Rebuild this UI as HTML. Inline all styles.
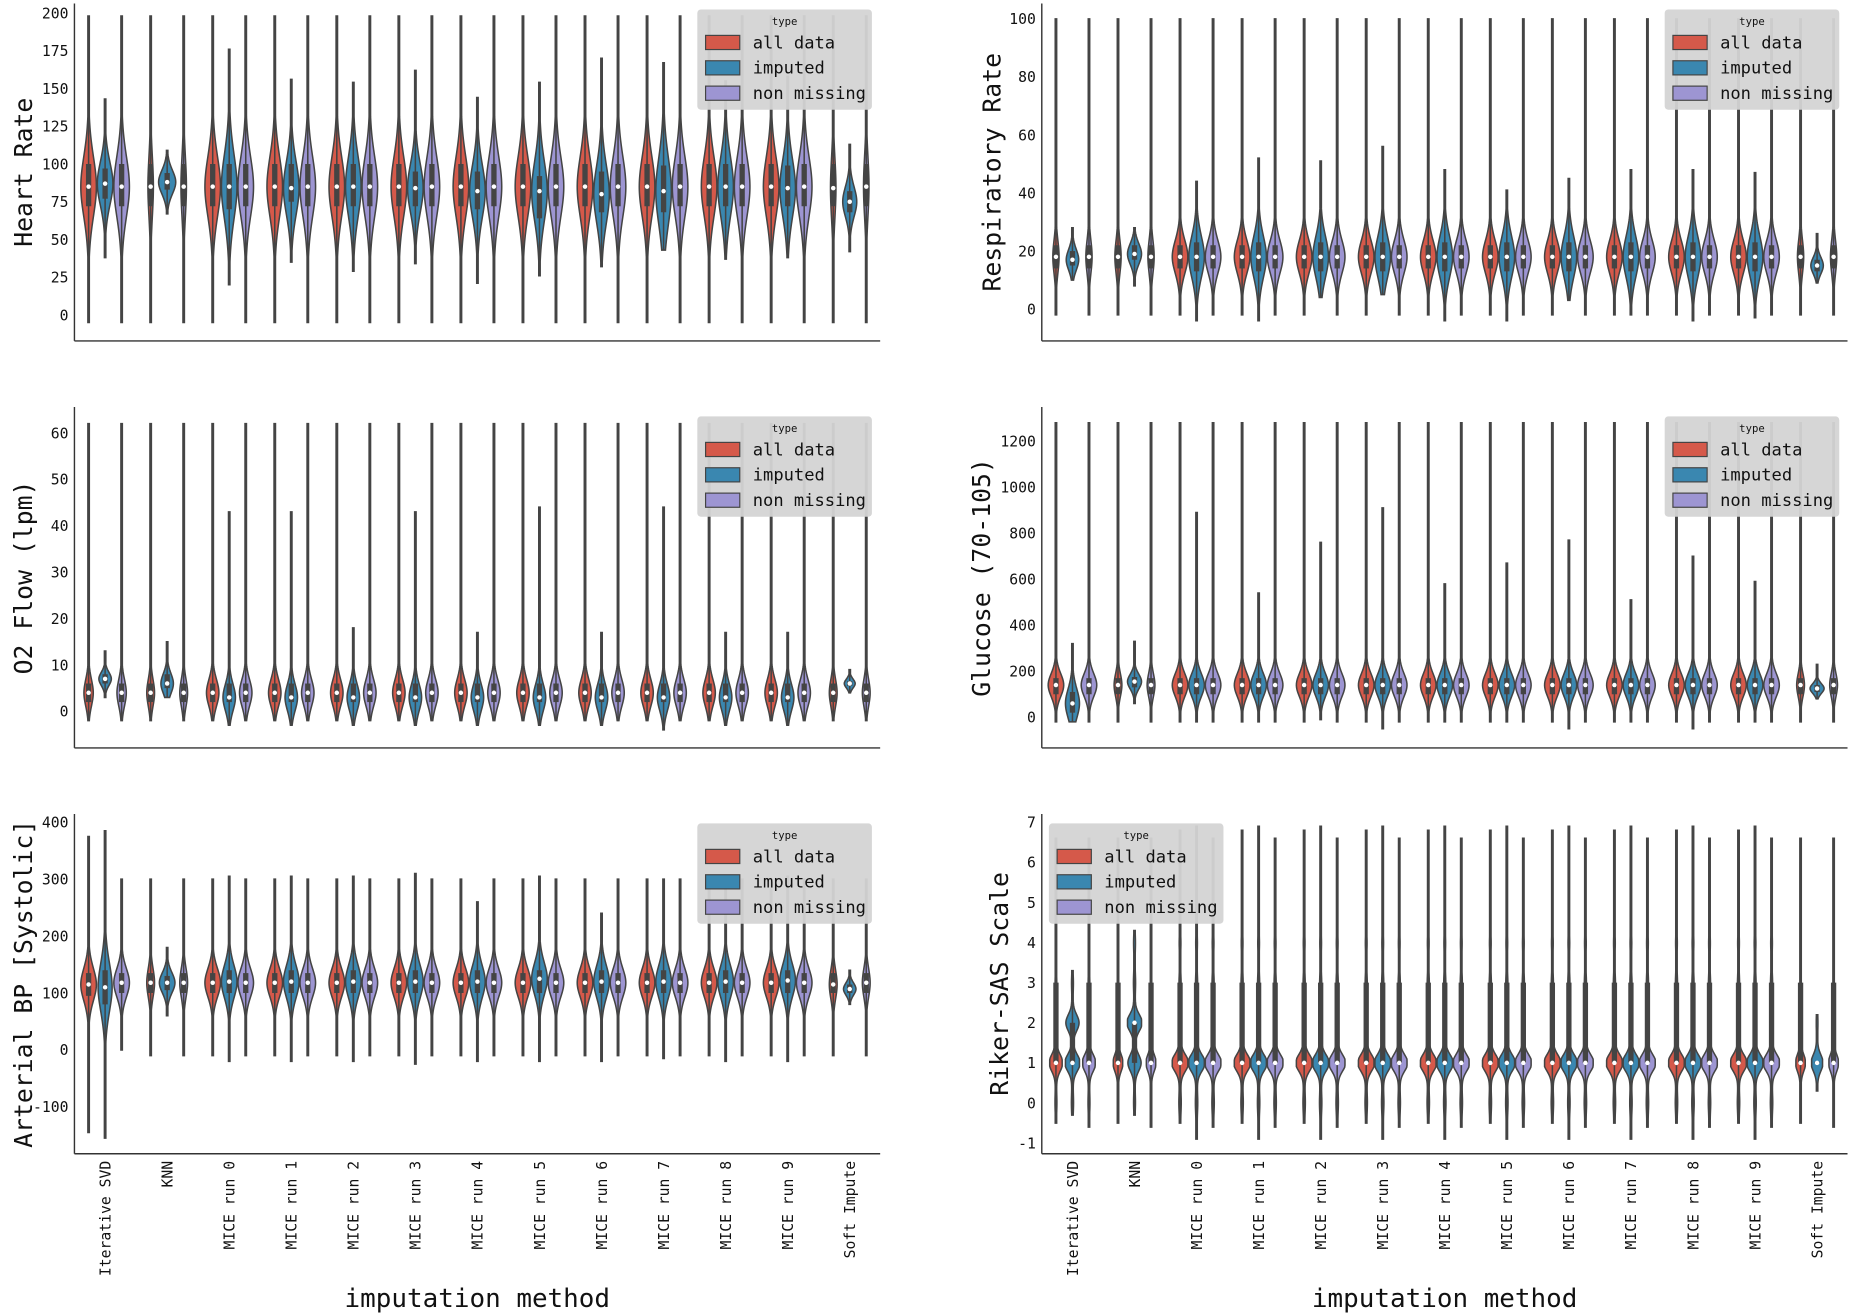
<!DOCTYPE html>
<html><head><meta charset="utf-8"><style>
html,body{margin:0;padding:0;background:#fff;}
svg{display:block;}
text{font-family:"DejaVu Sans Mono","Liberation Mono",monospace;fill:#111;}
</style></head>
<body>
<svg id="chart" width="1850" height="1313" viewBox="0 0 1568 1113" xmlns="http://www.w3.org/2000/svg"></svg>
<script>
const categories = ["Iterative SVD","KNN","MICE run 0","MICE run 1","MICE run 2","MICE run 3","MICE run 4","MICE run 5","MICE run 6","MICE run 7","MICE run 8","MICE run 9","Soft Impute"];
const typeNames = ["all data","imputed","non missing"];
// tuples: [min, q1, median, q3, max, relativeWidth]
const hrAll = [[-5,72,85,100,198,1],[-5,72,85,100,198,0.35],[-5,72,85,100,198,1],[-5,72,85,100,198,1],[-5,72,85,100,198,1],[-5,72,85,100,198,1],[-5,72,85,100,198,1],[-5,72,85,100,198,1],[-5,72,85,100,198,1],[-5,72,85,100,198,1],[-5,72,85,100,198,1],[-5,72,85,100,198,1],[-5,72,84,100,198,0.35]];
const hrImp = [[38,77,87,97,143,1],[67,83,88,94,109,1.1],[20,70,85,100,176,1],[35,75,84,100,156,1],[29,72,85,100,154,1],[34,72,84,95,162,1],[21,70,82,95,144,1],[26,64,82,92,154,1],[32,68,80,95,170,1],[43,68,82,99,167,1],[37,72,85,100,155,1],[38,72,84,99,158,1],[42,68,75,82,113,0.9]];
const hrNon = [[-5,72,85,100,198,1],[-5,72,85,100,198,0.35],[-5,72,85,100,198,1],[-5,72,85,100,198,1],[-5,72,85,100,198,1],[-5,72,85,100,198,1],[-5,72,85,100,198,1],[-5,72,85,100,198,1],[-5,72,85,100,198,1],[-5,72,85,100,198,1],[-5,72,85,100,198,1],[-5,72,85,100,198,1],[-5,72,85,100,198,0.35]];
const rrAll = [[-2,14,18,22,100,0.4],[-2,14,18,22,100,0.4],[-2,14,18,22,100,1],[-2,14,18,22,100,1],[-2,14,18,22,100,1],[-2,14,18,22,100,1],[-2,14,18,22,100,1],[-2,14,18,22,100,1],[-2,14,18,22,100,1],[-2,14,18,22,100,1],[-2,14,18,22,100,1],[-2,14,18,22,100,1],[-2,14,18,22,100,0.4]];
const rrImp = [[10,15,17,20,28,0.8],[8,17,19,22,28,0.9],[-4,13,18,23,44,1],[-4,13,18,23,52,1],[4,13,18,23,51,1],[5,13,18,23,56,1],[-4,13,18,23,48,1],[-4,13,18,23,41,1],[3,13,18,23,45,1],[-2,13,18,23,48,1],[-4,13,18,23,48,1],[-3,13,18,23,47,1],[9,13,15,17,26,0.8]];
const rrNon = [[-2,14,18,22,100,0.4],[-2,14,18,22,100,0.4],[-2,14,18,22,100,1],[-2,14,18,22,100,1],[-2,14,18,22,100,1],[-2,14,18,22,100,1],[-2,14,18,22,100,1],[-2,14,18,22,100,1],[-2,14,18,22,100,1],[-2,14,18,22,100,1],[-2,14,18,22,100,1],[-2,14,18,22,100,1],[-2,14,18,22,100,0.4]];
const o2All = [[-2,2,4,6,62,0.6],[-2,2,4,6,62,0.5],[-2,2,4,6,62,0.8],[-2,2,4,6,62,0.8],[-2,2,4,6,62,0.8],[-2,2,4,6,62,0.8],[-2,2,4,6,62,0.8],[-2,2,4,6,62,0.8],[-2,2,4,6,62,0.8],[-2,2,4,6,62,0.8],[-2,2,4,6,62,0.8],[-2,2,4,6,62,0.8],[-2,2,4,6,62,0.5]];
const o2Imp = [[3,6,7,8,13,0.8],[3,5,6,8,15,0.8],[-3,2,3,6,43,0.8],[-3,2,3,6,43,0.8],[-3,2,3,6,18,0.8],[-3,2,3,6,43,0.8],[-3,2,3,6,17,0.8],[-3,2,3,6,44,0.8],[-3,2,3,6,17,0.8],[-4,2,3,6,44,0.8],[-3,2,3,6,17,0.8],[-3,2,3,6,17,0.8],[4,5.5,6,6.5,9,0.7]];
const o2Non = [[-2,2,4,6,62,0.6],[-2,2,4,6,62,0.5],[-2,2,4,6,62,0.8],[-2,2,4,6,62,0.8],[-2,2,4,6,62,0.8],[-2,2,4,6,62,0.8],[-2,2,4,6,62,0.8],[-2,2,4,6,62,0.8],[-2,2,4,6,62,0.8],[-2,2,4,6,62,0.8],[-2,2,4,6,62,0.8],[-2,2,4,6,62,0.8],[-2,2,4,6,62,0.5]];
const glAll = [[-20,100,140,170,1280,1],[-20,100,140,170,1280,0.5],[-20,100,140,170,1280,1],[-20,100,140,170,1280,1],[-20,100,140,170,1280,1],[-20,100,140,170,1280,1],[-20,100,140,170,1280,1],[-20,100,140,170,1280,1],[-20,100,140,170,1280,1],[-20,100,140,170,1280,1],[-20,100,140,170,1280,1],[-20,100,140,170,1280,1],[-20,100,140,170,1280,0.5]];
const glImp = [[-20,20,60,110,320,0.9],[60,130,155,175,330,0.9],[-20,100,140,170,890,1],[-20,100,140,170,540,1],[-10,100,140,170,760,1],[-50,100,140,170,910,1],[-20,100,140,170,580,1],[-20,100,140,170,670,1],[-50,100,140,170,770,1],[-20,100,140,170,510,1],[-50,100,140,170,700,1],[-20,100,140,170,590,1],[80,110,125,140,230,0.9]];
const glNon = [[-20,100,140,170,1280,1],[-20,100,140,170,1280,0.5],[-20,100,140,170,1280,1],[-20,100,140,170,1280,1],[-20,100,140,170,1280,1],[-20,100,140,170,1280,1],[-20,100,140,170,1280,1],[-20,100,140,170,1280,1],[-20,100,140,170,1280,1],[-20,100,140,170,1280,1],[-20,100,140,170,1280,1],[-20,100,140,170,1280,1],[-20,100,140,170,1280,0.5]];
const bpAll = [[-145,95,115,135,375,1],[-10,100,118,135,300,0.5],[-10,100,118,135,300,1],[-10,100,118,135,300,1],[-10,100,118,135,300,1],[-10,100,118,135,300,1],[-10,100,118,135,300,1],[-10,100,118,135,300,1],[-10,100,118,135,300,1],[-10,100,118,135,300,1],[-10,100,118,135,300,1],[-10,100,118,135,300,1],[-10,100,115,135,300,0.5]];
const bpImp = [[-155,80,110,140,385,0.9],[60,105,118,130,180,1],[-20,100,120,140,305,1],[-20,100,120,140,305,1],[-20,100,120,140,305,1],[-25,100,120,140,310,1],[-20,100,120,140,260,1],[-20,100,125,140,305,1],[-20,100,120,140,240,1],[-15,100,120,140,300,1],[-20,100,120,140,305,1],[-20,100,122,140,305,1],[80,100,107,115,140,0.8]];
const bpNon = [[0,100,118,135,300,1],[-10,100,118,135,300,0.5],[-10,100,118,135,300,1],[-10,100,118,135,300,1],[-10,100,118,135,300,1],[-10,100,118,135,300,1],[-10,100,118,135,300,1],[-10,100,118,135,300,1],[-10,100,118,135,300,1],[-10,100,118,135,300,1],[-10,100,118,135,300,1],[-10,100,118,135,300,1],[-10,100,118,135,300,0.5]];
const rkAll = [[-0.5,1,1,3,6.6,0.8],[-0.5,1,1,3,6.6,0.6],[-0.5,1,1,3,6.8,1],[-0.5,1,1,3,6.8,1],[-0.5,1,1,3,6.8,1],[-0.5,1,1,3,6.8,1],[-0.5,1,1,3,6.8,1],[-0.5,1,1,3,6.8,1],[-0.5,1,1,3,6.8,1],[-0.5,1,1,3,6.8,1],[-0.5,1,1,3,6.8,1],[-0.5,1,1,3,6.8,1],[-0.5,1,1,3,6.6,0.6]];
const rkImp = [[-0.3,1,1,2,3.3,0.9],[-0.3,1,2,2,4.3,0.9],[-0.9,1,1,3,6.9,1],[-0.9,1,1,3,6.9,1],[-0.9,1,1,3,6.9,1],[-0.9,1,1,3,6.9,1],[-0.9,1,1,3,6.9,1],[-0.9,1,1,3,6.9,1],[-0.9,1,1,3,6.9,1],[-0.9,1,1,3,6.9,1],[-0.9,1,1,3,6.9,1],[-0.9,1,1,3,6.9,1],[0.3,1,1,1,2.2,0.7]];
const rkNon = [[-0.6,1,1,3,6.6,0.8],[-0.6,1,1,3,6.6,0.6],[-0.6,1,1,3,6.6,1],[-0.6,1,1,3,6.6,1],[-0.6,1,1,3,6.6,1],[-0.6,1,1,3,6.6,1],[-0.6,1,1,3,6.6,1],[-0.6,1,1,3,6.6,1],[-0.6,1,1,3,6.6,1],[-0.6,1,1,3,6.6,1],[-0.6,1,1,3,6.6,1],[-0.6,1,1,3,6.6,1],[-0.6,1,1,3,6.6,0.6]];
const hrTicks = [0,25,50,75,100,125,150,175,200];
const rrTicks = [0,20,40,60,80,100];
const o2Ticks = [0,10,20,30,40,50,60];
const glTicks = [0,200,400,600,800,1000,1200];
const bpTicks = [-100,0,100,200,300,400];
const rkTicks = [-1,0,1,2,3,4,5,6,7];

const NS = "http://www.w3.org/2000/svg";
const svg = document.getElementById('chart');
const colors = ["#d5594a","#3a87b0","#9d95d2"];
const edge = "#444";
function mk(tag, attrs, parent){
  const e = document.createElementNS(NS, tag);
  for (const k in attrs) e.setAttribute(k, attrs[k]);
  (parent||svg).appendChild(e);
  return e;
}
const panels = [
  {key:'hr', title:'Heart Rate', ax:63, right:746, top:3, bottom:289, v0:0, p0:267, v1:200, p1:11, ticks:hrTicks, data:[hrAll,hrImp,hrNon], legend:[591,8], labelX:20, minS:6},
  {key:'rr', title:'Respiratory Rate', ax:883, right:1566, top:3, bottom:289, v0:0, p0:262, v1:100, p1:16, ticks:rrTicks, data:[rrAll,rrImp,rrNon], legend:[1411,8], labelX:841, minS:2},
  {key:'o2', title:'O2 Flow (lpm)', ax:63, right:746, top:345, bottom:634, v0:0, p0:603, v1:60, p1:367, ticks:o2Ticks, data:[o2All,o2Imp,o2Non], legend:[591,353], labelX:20, minS:1},
  {key:'gl', title:'Glucose (70-105)', ax:883, right:1566, top:345, bottom:634, v0:0, p0:608, v1:1200, p1:374, ticks:glTicks, data:[glAll,glImp,glNon], legend:[1411,353], labelX:832, minS:20},
  {key:'bp', title:'Arterial BP [Systolic]', ax:63, right:746, top:690, bottom:978, v0:0, p0:890, v1:400, p1:697, ticks:bpTicks, data:[bpAll,bpImp,bpNon], legend:[591,698], labelX:20, minS:10},
  {key:'rk', title:'Riker-SAS Scale', ax:883, right:1566, top:690, bottom:978, v0:0, p0:935, v1:7, p1:697, ticks:rkTicks, data:[rkAll,rkImp,rkNon], legend:[889,698], labelX:847, minS:0.5, discrete:true}
];
const step = 52.6, first = 26, off = 14, baseW = 6.6;

panels.forEach(p => {
  const g = mk('g', {});
  
  
  const ys = v => p.p0 + (v - p.v0) * (p.p1 - p.p0) / (p.v1 - p.v0);
  const xs = i => p.ax + first + i * step;
  const sl = mk('line', {x1:p.ax, y1:p.top, x2:p.ax, y2:p.bottom, stroke:'#333', 'stroke-width':1.2}, g);
  
  
  const sb = mk('line', {x1:p.ax, y1:p.bottom, x2:p.right, y2:p.bottom, stroke:'#333', 'stroke-width':1.2}, g);
  
  
  p.ticks.forEach(t => {
    const tx = mk('text', {x:p.ax - 5, y:ys(t) + 4.5, 'text-anchor':'end', 'font-size':12.5}, g);
    tx.textContent = t;
    
    
  });
  const cy = (p.top + p.bottom) / 2;
  const yl = mk('text', {x:p.labelX, y:cy, 'text-anchor':'middle', 'font-size':21, transform:`rotate(-90 ${p.labelX} ${cy})`, 'dominant-baseline':'central'}, g);
  yl.textContent = p.title;
  
  
  categories.forEach((c, i) => {
    for (let t = 0; t < 3; t++) {
      const d = p.data[t][i];
      const [lo, q1, med, q3, hi, w] = d;
      const cx = xs(i) + (t - 1) * off;
      const s = Math.max((q3 - q1) / 1.35, p.minS);
      const N = 140, left = [], rightPts = [];
      for (let k = 0; k <= N; k++) {
        const v = lo + (hi - lo) * k / N;
        let dens;
        if (p.discrete) {
          dens = 0.1 * Math.exp(-0.5 * Math.pow((v - med) / 2.5, 2));
          for (let n = Math.ceil(lo); n <= Math.floor(hi); n++) {
            let wt = 0.06;
            if (n === med) wt = 1;
            else if (q3 - q1 === 1 && (n === q1 || n === q3)) wt = 0.85;
            dens += wt * Math.exp(-0.5 * Math.pow((v - n) / 0.2, 2));
          }
          dens = Math.min(dens, 1);
        } else {
          const z = (v - med) / s;
          dens = 0.88 * Math.exp(-0.5 * z * z) + 0.12 / (1 + z * z);
        }
        const hw = Math.max(baseW * w * dens, 0.6);
        left.push([cx - hw, ys(v)]);
        rightPts.push([cx + hw, ys(v)]);
      }
      const pts = left.concat(rightPts.reverse());
      const vp = mk('path', {d:'M' + pts.map(q => q[0].toFixed(2) + ',' + q[1].toFixed(2)).join('L') + 'Z', fill:colors[t], stroke:edge, 'stroke-width':1.3}, g);
      
      
      const wl = mk('line', {x1:cx, y1:ys(Math.max(lo, q1 - 1.5 * (q3 - q1))), x2:cx, y2:ys(Math.min(hi, q3 + 1.5 * (q3 - q1))), stroke:edge, 'stroke-width':1.3}, g);
      
      
      const bx = mk('line', {x1:cx, y1:ys(q1), x2:cx, y2:ys(q3) - (q3 === q1 ? 1 : 0), stroke:edge, 'stroke-width':4.5}, g);
      
      
      const md = mk('circle', {cx:cx, cy:ys(med), r:1.9, fill:'#fff'}, g);
      
      
    }
  });
  const [lx, ly] = p.legend;
  const lg = mk('g', {}, g);
  
  
  mk('rect', {x:lx, y:ly, width:148, height:85, rx:3, fill:'#d4d4d4', opacity:0.95}, lg);
  const lt = mk('text', {x:lx + 74, y:ly + 13, 'text-anchor':'middle', 'font-size':9}, lg);
  lt.textContent = 'type';
  
  
  typeNames.forEach((n, t) => {
    const yy = ly + 28 + t * 21.5;
    const r = mk('rect', {x:lx + 7, y:yy - 6, width:29, height:12, fill:colors[t], stroke:edge, 'stroke-width':1}, lg);
    
    
    const tx = mk('text', {x:lx + 47, y:yy + 5, 'font-size':14.5}, lg);
    tx.textContent = n;
    
    
  });
  if (p.key === 'bp' || p.key === 'rk') {
    categories.forEach((c, i) => {
      const x = xs(i) + 4.5, y = 984;
      const tx = mk('text', {x:x, y:y, 'text-anchor':'end', 'font-size':12.5, transform:`rotate(-90 ${x} ${y})`}, g);
      tx.textContent = c;
      
      
    });
    const xt = mk('text', {x:(p.ax + p.right) / 2, y:1108, 'text-anchor':'middle', 'font-size':22}, g);
    xt.textContent = 'imputation method';
    
    
  }
});
</script>
</body></html>
